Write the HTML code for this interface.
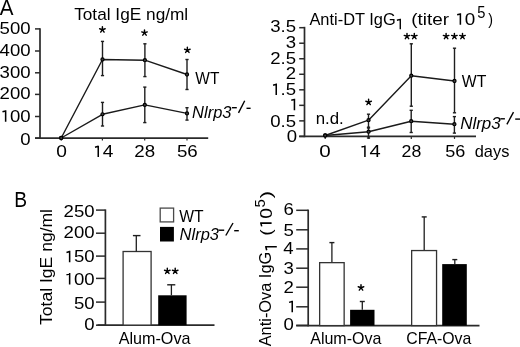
<!DOCTYPE html>
<html><head><meta charset="utf-8"><style>
html,body{margin:0;padding:0;background:#fff;width:520px;height:347px;overflow:hidden}
svg{display:block;font-family:"Liberation Sans", sans-serif;filter:grayscale(1)}
</style></head><body>
<svg width="520" height="347" viewBox="0 0 520 347">
<rect width="520" height="347" fill="#fff"/>
<g transform="translate(-0.30,14.70)"><text x="0" y="0" font-size="21.74" textLength="13.74" lengthAdjust="spacingAndGlyphs" fill="#000">A</text></g>
<g transform="translate(74.16,19.90)"><text x="0" y="0" font-size="16.60" textLength="114.05" lengthAdjust="spacingAndGlyphs" fill="#000">Total IgE ng/ml</text></g>
<line x1="40.00" y1="28.20" x2="40.00" y2="139.00" stroke="#2a2a2a" stroke-width="1.7" stroke-linecap="butt"/>
<line x1="35.00" y1="28.90" x2="40.00" y2="28.90" stroke="#2a2a2a" stroke-width="1.5" stroke-linecap="butt"/>
<g transform="translate(-0.40,33.72)"><text x="0" y="0" font-size="16.60" textLength="31.02" lengthAdjust="spacingAndGlyphs" fill="#000">500</text></g>
<line x1="35.00" y1="51.00" x2="40.00" y2="51.00" stroke="#2a2a2a" stroke-width="1.5" stroke-linecap="butt"/>
<g transform="translate(-0.40,56.12)"><text x="0" y="0" font-size="16.60" textLength="31.02" lengthAdjust="spacingAndGlyphs" fill="#000">400</text></g>
<line x1="35.00" y1="72.80" x2="40.00" y2="72.80" stroke="#2a2a2a" stroke-width="1.5" stroke-linecap="butt"/>
<g transform="translate(-0.40,77.82)"><text x="0" y="0" font-size="16.60" textLength="31.02" lengthAdjust="spacingAndGlyphs" fill="#000">300</text></g>
<line x1="35.00" y1="94.40" x2="40.00" y2="94.40" stroke="#2a2a2a" stroke-width="1.5" stroke-linecap="butt"/>
<g transform="translate(-0.40,99.32)"><text x="0" y="0" font-size="16.60" textLength="31.02" lengthAdjust="spacingAndGlyphs" fill="#000">200</text></g>
<line x1="35.00" y1="116.50" x2="40.00" y2="116.50" stroke="#2a2a2a" stroke-width="1.5" stroke-linecap="butt"/>
<g transform="translate(-0.40,121.72)"><text x="0" y="0" font-size="16.60" textLength="31.02" lengthAdjust="spacingAndGlyphs" fill="#000"> 00</text><path d="M2.88,-9.88L6.04,-10.77M6.04,-11.45V0" stroke="#000" stroke-width="1.53" fill="none"/></g>
<line x1="35.00" y1="138.20" x2="40.00" y2="138.20" stroke="#2a2a2a" stroke-width="1.5" stroke-linecap="butt"/>
<g transform="translate(20.23,144.62)"><text x="0" y="0" font-size="16.60" textLength="10.34" lengthAdjust="spacingAndGlyphs" fill="#000">0</text></g>
<line x1="35.00" y1="138.20" x2="208.20" y2="138.20" stroke="#2a2a2a" stroke-width="1.7" stroke-linecap="butt"/>
<line x1="61.20" y1="138.20" x2="61.20" y2="140.60" stroke="#2a2a2a" stroke-width="1.2" stroke-linecap="butt"/>
<line x1="102.40" y1="138.20" x2="102.40" y2="140.60" stroke="#2a2a2a" stroke-width="1.2" stroke-linecap="butt"/>
<line x1="144.70" y1="138.20" x2="144.70" y2="140.60" stroke="#2a2a2a" stroke-width="1.2" stroke-linecap="butt"/>
<line x1="187.00" y1="138.20" x2="187.00" y2="140.60" stroke="#2a2a2a" stroke-width="1.2" stroke-linecap="butt"/>
<g transform="translate(56.23,157.10)"><text x="0" y="0" font-size="16.60" textLength="10.66" lengthAdjust="spacingAndGlyphs" fill="#000">0</text></g>
<g transform="translate(92.03,157.10)"><text x="0" y="0" font-size="16.60" textLength="21.28" lengthAdjust="spacingAndGlyphs" fill="#000"> 4</text><path d="M2.97,-9.88L6.22,-10.77M6.22,-11.45V0" stroke="#000" stroke-width="1.53" fill="none"/></g>
<g transform="translate(134.36,157.10)"><text x="0" y="0" font-size="16.60" textLength="20.83" lengthAdjust="spacingAndGlyphs" fill="#000">28</text></g>
<g transform="translate(176.95,157.10)"><text x="0" y="0" font-size="16.60" textLength="20.84" lengthAdjust="spacingAndGlyphs" fill="#000">56</text></g>
<polyline points="61.2,138 102.5,59.5 144.9,60.2 187,74.5" fill="none" stroke="#1a1a1a" stroke-width="1.4" stroke-linejoin="round"/>
<polyline points="61.2,138 102.5,114.3 144.8,104.9 187,113.4" fill="none" stroke="#1a1a1a" stroke-width="1.4" stroke-linejoin="round"/>
<line x1="102.50" y1="41.40" x2="102.50" y2="75.60" stroke="#1e1e1e" stroke-width="1.4" stroke-linecap="butt"/>
<line x1="100.90" y1="41.40" x2="104.10" y2="41.40" stroke="#1e1e1e" stroke-width="1.4" stroke-linecap="butt"/>
<line x1="100.90" y1="75.60" x2="104.10" y2="75.60" stroke="#1e1e1e" stroke-width="1.4" stroke-linecap="butt"/>
<line x1="144.90" y1="43.80" x2="144.90" y2="76.60" stroke="#1e1e1e" stroke-width="1.4" stroke-linecap="butt"/>
<line x1="143.30" y1="43.80" x2="146.50" y2="43.80" stroke="#1e1e1e" stroke-width="1.4" stroke-linecap="butt"/>
<line x1="143.30" y1="76.60" x2="146.50" y2="76.60" stroke="#1e1e1e" stroke-width="1.4" stroke-linecap="butt"/>
<line x1="187.00" y1="59.50" x2="187.00" y2="89.50" stroke="#1e1e1e" stroke-width="1.4" stroke-linecap="butt"/>
<line x1="185.40" y1="59.50" x2="188.60" y2="59.50" stroke="#1e1e1e" stroke-width="1.4" stroke-linecap="butt"/>
<line x1="185.40" y1="89.50" x2="188.60" y2="89.50" stroke="#1e1e1e" stroke-width="1.4" stroke-linecap="butt"/>
<line x1="102.50" y1="102.40" x2="102.50" y2="126.00" stroke="#1e1e1e" stroke-width="1.4" stroke-linecap="butt"/>
<line x1="100.90" y1="102.40" x2="104.10" y2="102.40" stroke="#1e1e1e" stroke-width="1.4" stroke-linecap="butt"/>
<line x1="100.90" y1="126.00" x2="104.10" y2="126.00" stroke="#1e1e1e" stroke-width="1.4" stroke-linecap="butt"/>
<line x1="144.80" y1="87.10" x2="144.80" y2="122.60" stroke="#1e1e1e" stroke-width="1.4" stroke-linecap="butt"/>
<line x1="143.20" y1="87.10" x2="146.40" y2="87.10" stroke="#1e1e1e" stroke-width="1.4" stroke-linecap="butt"/>
<line x1="143.20" y1="122.60" x2="146.40" y2="122.60" stroke="#1e1e1e" stroke-width="1.4" stroke-linecap="butt"/>
<line x1="187.00" y1="107.70" x2="187.00" y2="120.10" stroke="#1e1e1e" stroke-width="1.4" stroke-linecap="butt"/>
<line x1="185.40" y1="107.70" x2="188.60" y2="107.70" stroke="#1e1e1e" stroke-width="1.4" stroke-linecap="butt"/>
<line x1="185.40" y1="120.10" x2="188.60" y2="120.10" stroke="#1e1e1e" stroke-width="1.4" stroke-linecap="butt"/>
<circle cx="61.2" cy="138" r="1.55" fill="#444" stroke="#000" stroke-width="1.2"/>
<circle cx="102.5" cy="59.5" r="1.55" fill="#444" stroke="#000" stroke-width="1.2"/>
<circle cx="144.9" cy="60.2" r="1.55" fill="#444" stroke="#000" stroke-width="1.2"/>
<circle cx="187" cy="74.5" r="1.55" fill="#444" stroke="#000" stroke-width="1.2"/>
<circle cx="61.2" cy="138" r="1.55" fill="#444" stroke="#000" stroke-width="1.2"/>
<circle cx="102.5" cy="114.3" r="1.55" fill="#444" stroke="#000" stroke-width="1.2"/>
<circle cx="144.8" cy="104.9" r="1.55" fill="#444" stroke="#000" stroke-width="1.2"/>
<circle cx="187" cy="113.4" r="1.55" fill="#444" stroke="#000" stroke-width="1.2"/>
<path d="M102.40,29.70L102.40,26.80M102.40,29.70L105.16,28.80M102.40,29.70L104.10,32.05M102.40,29.70L100.70,32.05M102.40,29.70L99.64,28.80" stroke="#000" stroke-width="1.45" stroke-linecap="round" fill="none"/>
<path d="M144.50,32.80L144.50,29.90M144.50,32.80L147.26,31.90M144.50,32.80L146.20,35.15M144.50,32.80L142.80,35.15M144.50,32.80L141.74,31.90" stroke="#000" stroke-width="1.45" stroke-linecap="round" fill="none"/>
<path d="M187.35,50.10L187.35,47.20M187.35,50.10L190.11,49.20M187.35,50.10L189.05,52.45M187.35,50.10L185.65,52.45M187.35,50.10L184.59,49.20" stroke="#000" stroke-width="1.45" stroke-linecap="round" fill="none"/>
<g transform="translate(195.35,84.30)"><text x="0" y="0" font-size="16.60" textLength="24.04" lengthAdjust="spacingAndGlyphs" fill="#000">WT</text></g>
<g transform="translate(192.11,118.20)"><text x="0" y="0" font-size="16.60" textLength="39.35" lengthAdjust="spacingAndGlyphs" font-style="italic" fill="#000">Nlrp3</text></g>
<line x1="231.90" y1="107.70" x2="236.80" y2="107.70" stroke="#000" stroke-width="1.4" stroke-linecap="butt"/>
<line x1="238.50" y1="112.90" x2="244.70" y2="100.80" stroke="#000" stroke-width="1.4" stroke-linecap="butt"/>
<line x1="246.50" y1="108.30" x2="250.60" y2="108.30" stroke="#000" stroke-width="1.4" stroke-linecap="butt"/>
<line x1="304.50" y1="26.80" x2="304.50" y2="137.20" stroke="#2a2a2a" stroke-width="1.7" stroke-linecap="butt"/>
<line x1="299.20" y1="27.69" x2="304.50" y2="27.69" stroke="#2a2a2a" stroke-width="1.5" stroke-linecap="butt"/>
<g transform="translate(270.20,32.12)"><text x="0" y="0" font-size="16.60" textLength="25.85" lengthAdjust="spacingAndGlyphs" fill="#000">3.5</text></g>
<line x1="299.20" y1="43.22" x2="304.50" y2="43.22" stroke="#2a2a2a" stroke-width="1.5" stroke-linecap="butt"/>
<g transform="translate(285.82,47.92)"><text x="0" y="0" font-size="16.60" textLength="10.34" lengthAdjust="spacingAndGlyphs" fill="#000">3</text></g>
<line x1="299.20" y1="58.75" x2="304.50" y2="58.75" stroke="#2a2a2a" stroke-width="1.5" stroke-linecap="butt"/>
<g transform="translate(270.20,63.62)"><text x="0" y="0" font-size="16.60" textLength="25.85" lengthAdjust="spacingAndGlyphs" fill="#000">2.5</text></g>
<line x1="299.20" y1="74.28" x2="304.50" y2="74.28" stroke="#2a2a2a" stroke-width="1.5" stroke-linecap="butt"/>
<g transform="translate(285.82,79.22)"><text x="0" y="0" font-size="16.60" textLength="10.34" lengthAdjust="spacingAndGlyphs" fill="#000">2</text></g>
<line x1="299.20" y1="89.81" x2="304.50" y2="89.81" stroke="#2a2a2a" stroke-width="1.5" stroke-linecap="butt"/>
<g transform="translate(270.20,95.05)"><text x="0" y="0" font-size="16.60" textLength="25.85" lengthAdjust="spacingAndGlyphs" fill="#000"> .5</text><path d="M2.88,-9.88L6.04,-10.77M6.04,-11.45V0" stroke="#000" stroke-width="1.53" fill="none"/></g>
<line x1="299.20" y1="105.34" x2="304.50" y2="105.34" stroke="#2a2a2a" stroke-width="1.5" stroke-linecap="butt"/>
<g transform="translate(288.40,110.15)"><text x="0" y="0" font-size="16.60" textLength="10.34" lengthAdjust="spacingAndGlyphs" fill="#000"> </text><path d="M2.88,-9.88L6.04,-10.77M6.04,-11.45V0" stroke="#000" stroke-width="1.53" fill="none"/></g>
<line x1="299.20" y1="120.87" x2="304.50" y2="120.87" stroke="#2a2a2a" stroke-width="1.5" stroke-linecap="butt"/>
<g transform="translate(270.20,127.02)"><text x="0" y="0" font-size="16.60" textLength="25.85" lengthAdjust="spacingAndGlyphs" fill="#000">0.5</text></g>
<line x1="299.20" y1="136.40" x2="304.50" y2="136.40" stroke="#2a2a2a" stroke-width="1.5" stroke-linecap="butt"/>
<g transform="translate(286.73,141.82)"><text x="0" y="0" font-size="16.60" textLength="10.34" lengthAdjust="spacingAndGlyphs" fill="#000">0</text></g>
<line x1="299.20" y1="136.40" x2="476.00" y2="136.40" stroke="#2a2a2a" stroke-width="1.7" stroke-linecap="butt"/>
<line x1="325.20" y1="136.40" x2="325.20" y2="138.90" stroke="#2a2a2a" stroke-width="1.2" stroke-linecap="butt"/>
<line x1="368.80" y1="136.40" x2="368.80" y2="138.90" stroke="#2a2a2a" stroke-width="1.2" stroke-linecap="butt"/>
<line x1="411.30" y1="136.40" x2="411.30" y2="138.90" stroke="#2a2a2a" stroke-width="1.2" stroke-linecap="butt"/>
<line x1="454.50" y1="136.40" x2="454.50" y2="138.90" stroke="#2a2a2a" stroke-width="1.2" stroke-linecap="butt"/>
<g transform="translate(319.28,156.90)"><text x="0" y="0" font-size="16.60" textLength="11.47" lengthAdjust="spacingAndGlyphs" fill="#000">0</text></g>
<g transform="translate(358.38,156.90)"><text x="0" y="0" font-size="16.60" textLength="22.37" lengthAdjust="spacingAndGlyphs" fill="#000"> 4</text><path d="M3.12,-9.88L6.54,-10.77M6.54,-11.45V0" stroke="#000" stroke-width="1.53" fill="none"/></g>
<g transform="translate(401.61,156.90)"><text x="0" y="0" font-size="16.60" textLength="19.74" lengthAdjust="spacingAndGlyphs" fill="#000">28</text></g>
<g transform="translate(445.28,156.90)"><text x="0" y="0" font-size="16.60" textLength="20.09" lengthAdjust="spacingAndGlyphs" fill="#000">56</text></g>
<g transform="translate(474.75,156.60)"><text x="0" y="0" font-size="16.60" textLength="34.58" lengthAdjust="spacingAndGlyphs" fill="#000">days</text></g>
<g transform="translate(309.40,24.50)"><text x="0" y="0" font-size="16.60" textLength="86.36" lengthAdjust="spacingAndGlyphs" fill="#000">Anti-DT IgG</text></g>
<g transform="translate(393.81,29.20)"><text x="0" y="0" font-size="15.07" textLength="11.07" lengthAdjust="spacingAndGlyphs" fill="#000"> </text><path d="M3.09,-8.97L6.47,-9.78M6.47,-10.40V0" stroke="#000" stroke-width="1.39" fill="none"/></g>
<g transform="translate(411.17,24.70)"><text x="0" y="0" font-size="16.60" textLength="64.09" lengthAdjust="spacingAndGlyphs" fill="#000">(titer  0</text><path d="M45.99,-9.88L49.21,-10.77M49.21,-11.45V0" stroke="#000" stroke-width="1.53" fill="none"/></g>
<g transform="translate(477.21,18.34)"><text x="0" y="0" font-size="15.71" textLength="8.17" lengthAdjust="spacingAndGlyphs" fill="#000">5</text></g>
<g transform="translate(488.16,24.70)"><text x="0" y="0" font-size="16.60" textLength="4.74" lengthAdjust="spacingAndGlyphs" fill="#000">)</text></g>
<polyline points="325.2,135.5 368.5,120.2 411.3,75.7 454.5,81.0" fill="none" stroke="#1a1a1a" stroke-width="1.4" stroke-linejoin="round"/>
<polyline points="325.2,135.5 368.6,131.7 411.2,121.2 454.4,124.2" fill="none" stroke="#1a1a1a" stroke-width="1.4" stroke-linejoin="round"/>
<line x1="368.50" y1="114.20" x2="368.50" y2="127.20" stroke="#1e1e1e" stroke-width="1.4" stroke-linecap="butt"/>
<line x1="366.90" y1="114.20" x2="370.10" y2="114.20" stroke="#1e1e1e" stroke-width="1.4" stroke-linecap="butt"/>
<line x1="366.90" y1="127.20" x2="370.10" y2="127.20" stroke="#1e1e1e" stroke-width="1.4" stroke-linecap="butt"/>
<line x1="411.30" y1="43.80" x2="411.30" y2="106.20" stroke="#1e1e1e" stroke-width="1.4" stroke-linecap="butt"/>
<line x1="409.70" y1="43.80" x2="412.90" y2="43.80" stroke="#1e1e1e" stroke-width="1.4" stroke-linecap="butt"/>
<line x1="409.70" y1="106.20" x2="412.90" y2="106.20" stroke="#1e1e1e" stroke-width="1.4" stroke-linecap="butt"/>
<line x1="454.50" y1="48.20" x2="454.50" y2="112.80" stroke="#1e1e1e" stroke-width="1.4" stroke-linecap="butt"/>
<line x1="452.90" y1="48.20" x2="456.10" y2="48.20" stroke="#1e1e1e" stroke-width="1.4" stroke-linecap="butt"/>
<line x1="452.90" y1="112.80" x2="456.10" y2="112.80" stroke="#1e1e1e" stroke-width="1.4" stroke-linecap="butt"/>
<line x1="368.50" y1="128.00" x2="368.50" y2="138.00" stroke="#1e1e1e" stroke-width="1.4" stroke-linecap="butt"/>
<line x1="366.90" y1="128.00" x2="370.10" y2="128.00" stroke="#1e1e1e" stroke-width="1.4" stroke-linecap="butt"/>
<line x1="366.90" y1="138.00" x2="370.10" y2="138.00" stroke="#1e1e1e" stroke-width="1.4" stroke-linecap="butt"/>
<line x1="411.20" y1="110.30" x2="411.20" y2="132.50" stroke="#1e1e1e" stroke-width="1.4" stroke-linecap="butt"/>
<line x1="409.60" y1="110.30" x2="412.80" y2="110.30" stroke="#1e1e1e" stroke-width="1.4" stroke-linecap="butt"/>
<line x1="409.60" y1="132.50" x2="412.80" y2="132.50" stroke="#1e1e1e" stroke-width="1.4" stroke-linecap="butt"/>
<line x1="454.40" y1="116.60" x2="454.40" y2="133.10" stroke="#1e1e1e" stroke-width="1.4" stroke-linecap="butt"/>
<line x1="452.80" y1="116.60" x2="456.00" y2="116.60" stroke="#1e1e1e" stroke-width="1.4" stroke-linecap="butt"/>
<line x1="452.80" y1="133.10" x2="456.00" y2="133.10" stroke="#1e1e1e" stroke-width="1.4" stroke-linecap="butt"/>
<circle cx="325.2" cy="135.5" r="1.55" fill="#444" stroke="#000" stroke-width="1.2"/>
<circle cx="368.5" cy="120.2" r="1.55" fill="#444" stroke="#000" stroke-width="1.2"/>
<circle cx="411.3" cy="75.7" r="1.55" fill="#444" stroke="#000" stroke-width="1.2"/>
<circle cx="454.5" cy="81.0" r="1.55" fill="#444" stroke="#000" stroke-width="1.2"/>
<circle cx="325.2" cy="135.5" r="1.55" fill="#444" stroke="#000" stroke-width="1.2"/>
<circle cx="368.6" cy="131.7" r="1.55" fill="#444" stroke="#000" stroke-width="1.2"/>
<circle cx="411.2" cy="121.2" r="1.55" fill="#444" stroke="#000" stroke-width="1.2"/>
<circle cx="454.4" cy="124.2" r="1.55" fill="#444" stroke="#000" stroke-width="1.2"/>
<path d="M368.60,102.20L368.60,99.30M368.60,102.20L371.36,101.30M368.60,102.20L370.30,104.55M368.60,102.20L366.90,104.55M368.60,102.20L365.84,101.30" stroke="#000" stroke-width="1.45" stroke-linecap="round" fill="none"/>
<path d="M407.00,36.30L407.00,33.40M407.00,36.30L409.76,35.40M407.00,36.30L408.70,38.65M407.00,36.30L405.30,38.65M407.00,36.30L404.24,35.40" stroke="#000" stroke-width="1.45" stroke-linecap="round" fill="none"/>
<path d="M414.30,36.30L414.30,33.40M414.30,36.30L417.06,35.40M414.30,36.30L416.00,38.65M414.30,36.30L412.60,38.65M414.30,36.30L411.54,35.40" stroke="#000" stroke-width="1.45" stroke-linecap="round" fill="none"/>
<path d="M446.10,36.30L446.10,33.40M446.10,36.30L448.86,35.40M446.10,36.30L447.80,38.65M446.10,36.30L444.40,38.65M446.10,36.30L443.34,35.40" stroke="#000" stroke-width="1.45" stroke-linecap="round" fill="none"/>
<path d="M454.40,36.30L454.40,33.40M454.40,36.30L457.16,35.40M454.40,36.30L456.10,38.65M454.40,36.30L452.70,38.65M454.40,36.30L451.64,35.40" stroke="#000" stroke-width="1.45" stroke-linecap="round" fill="none"/>
<path d="M462.50,36.30L462.50,33.40M462.50,36.30L465.26,35.40M462.50,36.30L464.20,38.65M462.50,36.30L460.80,38.65M462.50,36.30L459.74,35.40" stroke="#000" stroke-width="1.45" stroke-linecap="round" fill="none"/>
<g transform="translate(315.72,123.80)"><text x="0" y="0" font-size="16.60" textLength="28.06" lengthAdjust="spacingAndGlyphs" fill="#000">n.d.</text></g>
<g transform="translate(461.84,86.90)"><text x="0" y="0" font-size="16.60" textLength="24.55" lengthAdjust="spacingAndGlyphs" fill="#000">WT</text></g>
<g transform="translate(460.19,128.90)"><text x="0" y="0" font-size="16.60" textLength="40.57" lengthAdjust="spacingAndGlyphs" font-style="italic" fill="#000">Nlrp3</text></g>
<line x1="500.40" y1="118.80" x2="504.90" y2="118.80" stroke="#000" stroke-width="1.4" stroke-linecap="butt"/>
<line x1="506.90" y1="124.30" x2="513.50" y2="112.20" stroke="#000" stroke-width="1.4" stroke-linecap="butt"/>
<line x1="515.20" y1="119.10" x2="520.50" y2="119.10" stroke="#000" stroke-width="1.4" stroke-linecap="butt"/>
<g transform="translate(14.26,206.60)"><text x="0" y="0" font-size="21.16" textLength="12.84" lengthAdjust="spacingAndGlyphs" fill="#000">B</text></g>
<g transform="translate(51.60,324.95) rotate(-90)"><text x="0" y="0" font-size="16.60" textLength="115.98" lengthAdjust="spacingAndGlyphs" fill="#000">Total IgE ng/ml</text></g>
<line x1="105.40" y1="209.40" x2="105.40" y2="325.90" stroke="#2a2a2a" stroke-width="1.7" stroke-linecap="butt"/>
<line x1="96.00" y1="210.10" x2="105.40" y2="210.10" stroke="#2a2a2a" stroke-width="1.5" stroke-linecap="butt"/>
<g transform="translate(63.60,217.42)"><text x="0" y="0" font-size="16.60" textLength="31.02" lengthAdjust="spacingAndGlyphs" fill="#000">250</text></g>
<line x1="96.00" y1="233.20" x2="105.40" y2="233.20" stroke="#2a2a2a" stroke-width="1.5" stroke-linecap="butt"/>
<g transform="translate(63.60,238.32)"><text x="0" y="0" font-size="16.60" textLength="31.02" lengthAdjust="spacingAndGlyphs" fill="#000">200</text></g>
<line x1="96.00" y1="256.10" x2="105.40" y2="256.10" stroke="#2a2a2a" stroke-width="1.5" stroke-linecap="butt"/>
<g transform="translate(63.60,262.32)"><text x="0" y="0" font-size="16.60" textLength="31.02" lengthAdjust="spacingAndGlyphs" fill="#000"> 50</text><path d="M2.88,-9.88L6.04,-10.77M6.04,-11.45V0" stroke="#000" stroke-width="1.53" fill="none"/></g>
<line x1="96.00" y1="278.40" x2="105.40" y2="278.40" stroke="#2a2a2a" stroke-width="1.5" stroke-linecap="butt"/>
<g transform="translate(63.60,284.52)"><text x="0" y="0" font-size="16.60" textLength="31.02" lengthAdjust="spacingAndGlyphs" fill="#000"> 00</text><path d="M2.88,-9.88L6.04,-10.77M6.04,-11.45V0" stroke="#000" stroke-width="1.53" fill="none"/></g>
<line x1="96.00" y1="302.10" x2="105.40" y2="302.10" stroke="#2a2a2a" stroke-width="1.5" stroke-linecap="butt"/>
<g transform="translate(74.01,308.62)"><text x="0" y="0" font-size="16.60" textLength="20.68" lengthAdjust="spacingAndGlyphs" fill="#000">50</text></g>
<line x1="96.00" y1="325.20" x2="105.40" y2="325.20" stroke="#2a2a2a" stroke-width="1.5" stroke-linecap="butt"/>
<g transform="translate(84.23,330.22)"><text x="0" y="0" font-size="16.60" textLength="10.34" lengthAdjust="spacingAndGlyphs" fill="#000">0</text></g>
<line x1="97.50" y1="325.10" x2="214.50" y2="325.10" stroke="#2a2a2a" stroke-width="1.7" stroke-linecap="butt"/>
<rect x="123.1" y="251.5" width="28.0" height="73.6" fill="#fff" stroke="#333" stroke-width="1.3"/>
<line x1="136.30" y1="235.60" x2="136.30" y2="251.50" stroke="#1e1e1e" stroke-width="1.3" stroke-linecap="butt"/>
<line x1="132.90" y1="235.60" x2="140.50" y2="235.60" stroke="#1e1e1e" stroke-width="1.4" stroke-linecap="butt"/>
<rect x="158.2" y="295.3" width="28.4" height="29.9" fill="#000"/>
<line x1="171.40" y1="284.80" x2="171.40" y2="295.30" stroke="#1e1e1e" stroke-width="1.3" stroke-linecap="butt"/>
<line x1="167.20" y1="284.80" x2="175.30" y2="284.80" stroke="#1e1e1e" stroke-width="1.4" stroke-linecap="butt"/>
<path d="M167.30,271.10L167.30,268.20M167.30,271.10L170.06,270.20M167.30,271.10L169.00,273.45M167.30,271.10L165.60,273.45M167.30,271.10L164.54,270.20" stroke="#000" stroke-width="1.45" stroke-linecap="round" fill="none"/>
<path d="M175.20,271.10L175.20,268.20M175.20,271.10L177.96,270.20M175.20,271.10L176.90,273.45M175.20,271.10L173.50,273.45M175.20,271.10L172.44,270.20" stroke="#000" stroke-width="1.45" stroke-linecap="round" fill="none"/>
<rect x="160.2" y="208.1" width="13.4" height="13.8" fill="#fff" stroke="#4a4a4a" stroke-width="1.3"/>
<rect x="160" y="226.9" width="13.9" height="14.6" fill="#000"/>
<g transform="translate(179.24,221.60)"><text x="0" y="0" font-size="16.60" textLength="24.34" lengthAdjust="spacingAndGlyphs" fill="#000">WT</text></g>
<g transform="translate(179.61,240.10)"><text x="0" y="0" font-size="16.60" textLength="39.35" lengthAdjust="spacingAndGlyphs" font-style="italic" fill="#000">Nlrp3</text></g>
<line x1="218.80" y1="230.20" x2="224.20" y2="230.20" stroke="#000" stroke-width="1.4" stroke-linecap="butt"/>
<line x1="225.80" y1="235.50" x2="233.00" y2="223.00" stroke="#000" stroke-width="1.4" stroke-linecap="butt"/>
<line x1="234.20" y1="230.70" x2="238.80" y2="230.70" stroke="#000" stroke-width="1.4" stroke-linecap="butt"/>
<g transform="translate(118.75,344.13)"><text x="0" y="0" font-size="16.60" textLength="71.67" lengthAdjust="spacingAndGlyphs" fill="#000">Alum-Ova</text></g>
<g transform="translate(271.40,346.30) rotate(-90)"><text x="0" y="0" font-size="16.60" textLength="94.54" lengthAdjust="spacingAndGlyphs" fill="#000">Anti-Ova IgG</text></g>
<g transform="translate(276.80,253.53) rotate(-90)"><text x="0" y="0" font-size="16.96" textLength="11.59" lengthAdjust="spacingAndGlyphs" fill="#000"> </text><path d="M3.23,-10.09L6.77,-11.00M6.77,-11.70V0" stroke="#000" stroke-width="1.56" fill="none"/></g>
<g transform="translate(271.60,235.75) rotate(-90)"><text x="0" y="0" font-size="16.60" textLength="27.73" lengthAdjust="spacingAndGlyphs" fill="#000">( 0</text><path d="M9.36,-9.88L12.62,-10.77M12.62,-11.45V0" stroke="#000" stroke-width="1.53" fill="none"/></g>
<g transform="translate(264.85,207.60) rotate(-90)"><text x="0" y="0" font-size="14.86" textLength="8.28" lengthAdjust="spacingAndGlyphs" fill="#000">5</text></g>
<g transform="translate(271.60,198.53) rotate(-90)"><text x="0" y="0" font-size="16.60" textLength="7.69" lengthAdjust="spacingAndGlyphs" fill="#000">)</text></g>
<line x1="308.20" y1="209.60" x2="308.20" y2="326.40" stroke="#2a2a2a" stroke-width="1.7" stroke-linecap="butt"/>
<line x1="296.20" y1="210.30" x2="308.20" y2="210.30" stroke="#2a2a2a" stroke-width="1.5" stroke-linecap="butt"/>
<g transform="translate(283.62,215.12)"><text x="0" y="0" font-size="16.60" textLength="10.34" lengthAdjust="spacingAndGlyphs" fill="#000">6</text></g>
<line x1="296.20" y1="229.80" x2="308.20" y2="229.80" stroke="#2a2a2a" stroke-width="1.5" stroke-linecap="butt"/>
<g transform="translate(283.62,236.35)"><text x="0" y="0" font-size="16.60" textLength="10.34" lengthAdjust="spacingAndGlyphs" fill="#000">5</text></g>
<line x1="296.20" y1="248.90" x2="308.20" y2="248.90" stroke="#2a2a2a" stroke-width="1.5" stroke-linecap="butt"/>
<g transform="translate(283.25,254.35)"><text x="0" y="0" font-size="16.60" textLength="10.34" lengthAdjust="spacingAndGlyphs" fill="#000">4</text></g>
<line x1="296.20" y1="268.20" x2="308.20" y2="268.20" stroke="#2a2a2a" stroke-width="1.5" stroke-linecap="butt"/>
<g transform="translate(283.62,274.32)"><text x="0" y="0" font-size="16.60" textLength="10.34" lengthAdjust="spacingAndGlyphs" fill="#000">3</text></g>
<line x1="296.20" y1="287.20" x2="308.20" y2="287.20" stroke="#2a2a2a" stroke-width="1.5" stroke-linecap="butt"/>
<g transform="translate(283.62,293.32)"><text x="0" y="0" font-size="16.60" textLength="10.34" lengthAdjust="spacingAndGlyphs" fill="#000">2</text></g>
<line x1="296.20" y1="306.80" x2="308.20" y2="306.80" stroke="#2a2a2a" stroke-width="1.5" stroke-linecap="butt"/>
<g transform="translate(286.20,312.25)"><text x="0" y="0" font-size="16.60" textLength="10.34" lengthAdjust="spacingAndGlyphs" fill="#000"> </text><path d="M2.88,-9.88L6.04,-10.77M6.04,-11.45V0" stroke="#000" stroke-width="1.53" fill="none"/></g>
<line x1="296.20" y1="325.40" x2="308.20" y2="325.40" stroke="#2a2a2a" stroke-width="1.5" stroke-linecap="butt"/>
<g transform="translate(283.43,329.52)"><text x="0" y="0" font-size="16.60" textLength="10.34" lengthAdjust="spacingAndGlyphs" fill="#000">0</text></g>
<line x1="296.20" y1="325.60" x2="479.50" y2="325.60" stroke="#2a2a2a" stroke-width="1.7" stroke-linecap="butt"/>
<rect x="319.65" y="262.65" width="24.50" height="62.95" fill="#fff" stroke="#333" stroke-width="1.3"/>
<line x1="331.90" y1="242.60" x2="331.90" y2="262.00" stroke="#1e1e1e" stroke-width="1.3" stroke-linecap="butt"/>
<line x1="329.40" y1="242.60" x2="334.40" y2="242.60" stroke="#1e1e1e" stroke-width="1.4" stroke-linecap="butt"/>
<rect x="350.1" y="309.8" width="24.40" height="15.80" fill="#000"/>
<line x1="362.30" y1="301.50" x2="362.30" y2="309.80" stroke="#1e1e1e" stroke-width="1.3" stroke-linecap="butt"/>
<line x1="359.80" y1="301.50" x2="364.80" y2="301.50" stroke="#1e1e1e" stroke-width="1.4" stroke-linecap="butt"/>
<path d="M361.00,287.70L361.00,284.80M361.00,287.70L363.76,286.80M361.00,287.70L362.70,290.05M361.00,287.70L359.30,290.05M361.00,287.70L358.24,286.80" stroke="#000" stroke-width="1.45" stroke-linecap="round" fill="none"/>
<rect x="411.65" y="250.55" width="24.90" height="75.05" fill="#fff" stroke="#333" stroke-width="1.3"/>
<line x1="424.20" y1="216.90" x2="424.20" y2="249.90" stroke="#1e1e1e" stroke-width="1.3" stroke-linecap="butt"/>
<line x1="421.70" y1="216.90" x2="426.70" y2="216.90" stroke="#1e1e1e" stroke-width="1.4" stroke-linecap="butt"/>
<rect x="442.2" y="264.1" width="24.60" height="61.50" fill="#000"/>
<line x1="454.80" y1="259.60" x2="454.80" y2="264.10" stroke="#1e1e1e" stroke-width="1.3" stroke-linecap="butt"/>
<line x1="452.30" y1="259.60" x2="457.30" y2="259.60" stroke="#1e1e1e" stroke-width="1.4" stroke-linecap="butt"/>
<g transform="translate(310.20,344.13)"><text x="0" y="0" font-size="16.60" textLength="71.22" lengthAdjust="spacingAndGlyphs" fill="#000">Alum-Ova</text></g>
<g transform="translate(406.21,344.03)"><text x="0" y="0" font-size="16.60" textLength="65.07" lengthAdjust="spacingAndGlyphs" fill="#000">CFA-Ova</text></g>
</svg>
</body></html>
